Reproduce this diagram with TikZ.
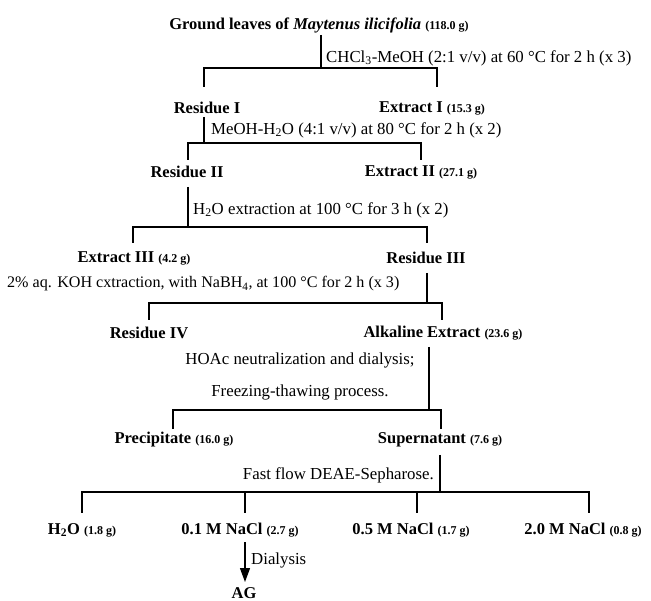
\documentclass[tikz,border=0pt]{standalone}
\usepackage{fontspec}
\setmainfont{Liberation Serif}
\usetikzlibrary{arrows.meta}
\newcommand{\gm}[1]{{\fontsize{12}{14}\selectfont\bfseries #1}}
\begin{document}
\begin{tikzpicture}[x=1pt,y=-1pt,
  lbl/.style={font=\fontsize{16.5}{19}\selectfont\bfseries, inner sep=0pt},
  cond/.style={font=\fontsize{16.8}{19}\selectfont, inner sep=0pt},
  ln/.style={line width=1.1pt},
  arr/.style={line width=1.3pt,-{Triangle[length=14pt,width=10pt]}}]
\useasboundingbox (0,0) rectangle (651,601);
% level 1
\node[lbl] (t) at (319,25) {Ground leaves of \textit{Maytenus ilicifolia} \gm{(118.0 g)}};
\coordinate (v1a) at (321,35); \coordinate (v1b) at (321,68);
\draw[ln] (v1a) -- (v1b);
\node[cond, anchor=west] (c1) at (326,58) {CHCl\textsubscript{3}-MeOH (2:1 v/v) at 60 °C for 2 h (x 3)};
\coordinate (d1l) at (204,87); \coordinate (d1r) at (437,87);
\draw[ln] (d1l) |- (d1r |- v1b) -- (d1r);
\node[lbl] (r1) at (207,108) {Residue I};
\node[lbl] (e1) at (432,108) {Extract I \gm{(15.3 g)}};
% level 2
\coordinate (v2a) at (204,117); \coordinate (v2b) at (204,143);
\draw[ln] (v2a) -- (v2b);
\node[cond, anchor=west] (c2) at (211,130) {MeOH-H\textsubscript{2}O (4:1 v/v) at 80 °C for 2 h (x 2)};
\coordinate (d2l) at (188,160); \coordinate (d2r) at (421,160);
\draw[ln] (d2l) |- (d2r |- v2b) -- (d2r);
\node[lbl] (r2) at (187,172) {Residue II};
\node[lbl] (e2) at (421,172) {Extract II \gm{(27.1 g)}};
% level 3
\coordinate (v3a) at (188,187); \coordinate (v3b) at (188,227);
\draw[ln] (v3a) -- (v3b);
\node[cond, anchor=west] (c3) at (193,210) {H\textsubscript{2}O extraction at 100 °C for 3 h (x 2)};
\coordinate (d3l) at (133,243); \coordinate (d3r) at (427,243);
\draw[ln] (d3l) |- (d3r |- v3b) -- (d3r);
\node[lbl] (e3) at (134,258) {Extract III \gm{(4.2 g)}};
\node[lbl] (r3) at (426,258) {Residue III};
% level 4
\coordinate (v4a) at (427,273); \coordinate (v4b) at (427,303);
\draw[ln] (v4a) -- (v4b);
\node[cond, anchor=west, font=\fontsize{16.1}{19}\selectfont] (c4) at (7,284) {2\% aq. KOH cxtraction, with NaBH\textsubscript{4}, at 100 °C for 2 h (x 3)};
\coordinate (d4l) at (149,320); \coordinate (d4r) at (442,320);
\draw[ln] (d4l) |- (d4r |- v4b) -- (d4r);
\node[lbl] (r4) at (149,333) {Residue IV};
\node[lbl] (ak) at (443,333) {Alkaline Extract \gm{(23.6 g)}};
% level 5
\coordinate (v5a) at (429,347); \coordinate (v5b) at (429,410);
\draw[ln] (v5a) -- (v5b);
\node[cond] (c5a) at (300,360) {HOAc neutralization and dialysis;};
\node[cond] (c5b) at (300,392) {Freezing-thawing process.};
\coordinate (d5l) at (173,429); \coordinate (d5r) at (441,429);
\draw[ln] (d5l) |- (d5r |- v5b) -- (d5r);
\node[lbl] (pr) at (174,440) {Precipitate \gm{(16.0 g)}};
\node[lbl] (su) at (440,440) {Supernatant \gm{(7.6 g)}};
% level 6
\coordinate (v6a) at (440,455); \coordinate (v6b) at (440,492);
\draw[ln] (v6a) -- (v6b);
\node[cond, anchor=east] (c6) at (434,475) {Fast flow DEAE-Sepharose.};
\coordinate (f1) at (82,513); \coordinate (f2) at (245,513);
\coordinate (f3) at (417,513); \coordinate (f4) at (589,513);
\draw[ln] (f1) |- (f4 |- v6b) -- (f4);
\draw[ln] (f2) -- (f2 |- v6b);
\draw[ln] (f3) -- (f3 |- v6b);
\node[lbl] (w) at (82,530) {H\textsubscript{2}O \gm{(1.8 g)}};
\node[lbl] (n1) at (240,530) {0.1 M NaCl \gm{(2.7 g)}};
\node[lbl] (n5) at (411,530) {0.5 M NaCl \gm{(1.7 g)}};
\node[lbl] (n2) at (583,530) {2.0 M NaCl \gm{(0.8 g)}};
% dialysis
\coordinate (a1) at (245,542); \coordinate (a2) at (245,582);
\draw[arr] (a1) -- (a2);
\node[cond, anchor=west] (dl) at (251,560) {Dialysis};
\node[lbl] (ag) at (244,593) {AG};
\end{tikzpicture}
\end{document}
